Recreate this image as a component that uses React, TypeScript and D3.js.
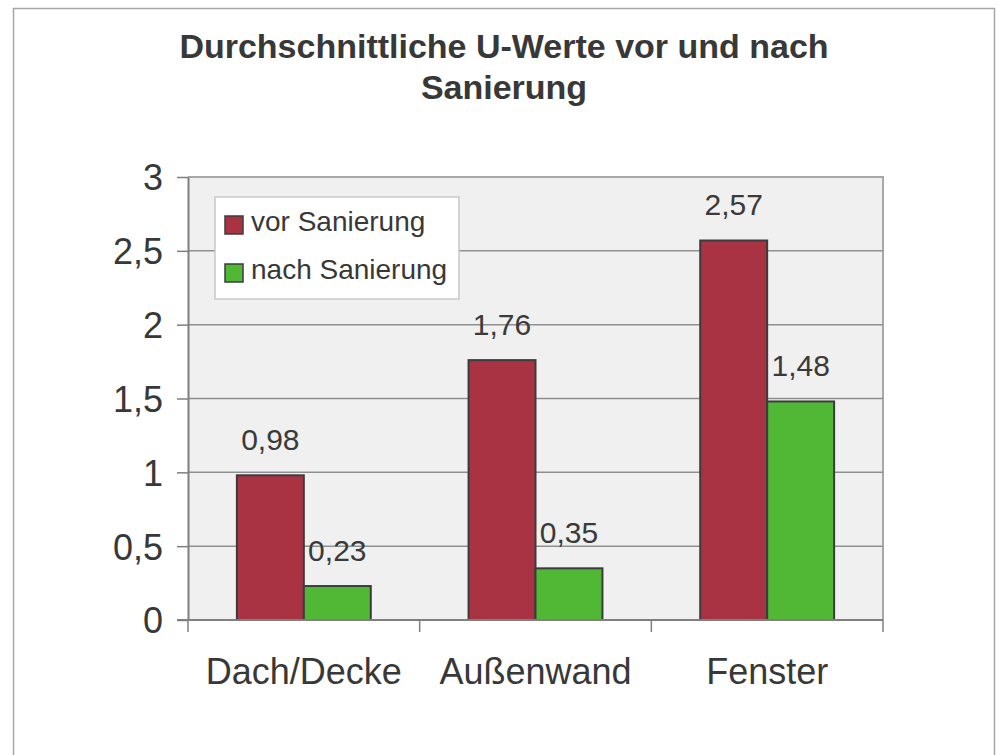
// @ts-nocheck
import { useRef, useEffect } from "react";
import * as d3 from "d3";

const categories = ["Dach/Decke", "Außenwand", "Fenster"];
const seriesNames = ["vor Sanierung", "nach Sanierung"];
const vorValues = [0.98, 1.76, 2.57];
const nachValues = [0.23, 0.35, 1.48];
const yTicks = [0, 0.5, 1, 1.5, 2, 2.5, 3];
const titleLines = ["Durchschnittliche U-Werte vor und nach", "Sanierung"];

const colors = ["#a93243", "#50b834"];
const FONT = "'Liberation Sans', Arial, sans-serif";

const de = d3.formatLocale({ decimal: ",", thousands: ".", grouping: [3], currency: ["", " €"] });

const App = () => {
  const svgRef = useRef();

  useEffect(() => {
    document.body.style.margin = "0";
    const svg = d3.select(svgRef.current);
    svg.selectAll("*").remove();

    const width = 999;
    const height = 755;
    const plot = { left: 188, right: 883, top: 177, bottom: 620 };

    svg.attr("width", width).attr("height", height).style("display", "block");

    // Rahmen aussen
    svg
      .append("rect")
      .attr("x", 13.5)
      .attr("y", 8.5)
      .attr("width", 981)
      .attr("height", 780)
      .attr("fill", "#fff")
      .attr("stroke", "#a6a6a6")
      .attr("stroke-width", 1.5);

    // Titel
    svg
      .append("g")
      .selectAll("text")
      .data(titleLines)
      .enter()
      .append("text")
      .attr("x", 504)
      .attr("y", (d, i) => 58 + i * 41)
      .attr("text-anchor", "middle")
      .attr("font-family", FONT)
      .attr("font-weight", "bold")
      .attr("font-size", 34)
      .attr("fill", "#383838")
      .text((d) => d);

    const x0 = d3.scaleBand().domain(categories).range([plot.left, plot.right]).padding(0);
    const gap = x0.bandwidth() * 0.211;
    const x1 = d3.scaleBand().domain(seriesNames).range([gap, x0.bandwidth() - gap]).padding(0);
    const y = d3.scaleLinear().domain([0, 3]).range([plot.bottom, plot.top]);

    // Plotflaeche
    svg
      .append("rect")
      .attr("x", plot.left)
      .attr("y", plot.top)
      .attr("width", plot.right - plot.left)
      .attr("height", plot.bottom - plot.top)
      .attr("fill", "#f0f0f0");

    svg
      .append("path")
      .attr("d", `M${plot.left},${plot.top}H${plot.right}V${plot.bottom}`)
      .attr("fill", "none")
      .attr("stroke", "#a8a8a8")
      .attr("stroke-width", 2);

    // Gitterlinien
    svg
      .append("g")
      .selectAll("line")
      .data(yTicks.filter((t) => t > 0 && t < 3))
      .enter()
      .append("line")
      .attr("x1", plot.left)
      .attr("x2", plot.right)
      .attr("y1", (d) => y(d))
      .attr("y2", (d) => y(d))
      .attr("stroke", "#8f8f8f")
      .attr("stroke-width", 1.5);

    // Balken
    const rows = categories.map((c, i) => ({ cat: c, values: [vorValues[i], nachValues[i]] }));
    const groups = svg
      .append("g")
      .selectAll("g")
      .data(rows)
      .enter()
      .append("g")
      .attr("transform", (d) => `translate(${x0(d.cat)},0)`);

    groups
      .selectAll("rect")
      .data((d) => d.values.map((v, i) => ({ key: seriesNames[i], value: v, i })))
      .enter()
      .append("rect")
      .attr("x", (d) => x1(d.key))
      .attr("y", (d) => y(d.value))
      .attr("width", x1.bandwidth())
      .attr("height", (d) => y(0) - y(d.value))
      .attr("fill", (d) => colors[d.i])
      .attr("stroke", "#3c3c3c")
      .attr("stroke-width", 2);

    groups
      .selectAll("text")
      .data((d) => d.values.map((v, i) => ({ key: seriesNames[i], value: v })))
      .enter()
      .append("text")
      .attr("x", (d) => x1(d.key) + x1.bandwidth() / 2)
      .attr("y", (d) => y(d.value) - 25)
      .attr("text-anchor", "middle")
      .attr("font-family", FONT)
      .attr("font-size", 30)
      .attr("fill", "#3a3a3a")
      .text((d) => de.format(".2f")(d.value));

    // Y-Achse
    const yAxis = svg
      .append("g")
      .attr("transform", `translate(${plot.left},0)`)
      .call(
        d3
          .axisLeft(y)
          .tickValues(yTicks)
          .tickSize(11)
          .tickSizeOuter(0)
          .tickPadding(14)
          .tickFormat(de.format("~g"))
      );
    yAxis.select(".domain").attr("stroke", "#7f7f7f").attr("stroke-width", 2);
    yAxis.selectAll(".tick line").attr("stroke", "#7f7f7f").attr("stroke-width", 1.5);
    yAxis
      .selectAll(".tick text")
      .attr("font-family", FONT)
      .attr("font-size", 36)
      .attr("fill", "#383838")
      .attr("dy", "0.36em");

    // X-Achse
    const xg = svg.append("g");
    xg.append("line")
      .attr("x1", plot.left - 11)
      .attr("x2", plot.right)
      .attr("y1", plot.bottom)
      .attr("y2", plot.bottom)
      .attr("stroke", "#7f7f7f")
      .attr("stroke-width", 2);

    const bounds = categories.map((c) => x0(c)).concat([x0(categories[categories.length - 1]) + x0.bandwidth()]);
    xg.selectAll(".xt")
      .data(bounds)
      .enter()
      .append("line")
      .attr("class", "xt")
      .attr("x1", (d) => d)
      .attr("x2", (d) => d)
      .attr("y1", plot.bottom)
      .attr("y2", plot.bottom + 12)
      .attr("stroke", "#7f7f7f")
      .attr("stroke-width", 1.5);

    xg.selectAll(".xl")
      .data(categories)
      .enter()
      .append("text")
      .attr("class", "xl")
      .attr("x", (d) => x0(d) + x0.bandwidth() / 2)
      .attr("y", 684)
      .attr("text-anchor", "middle")
      .attr("font-family", FONT)
      .attr("font-size", 36)
      .attr("fill", "#383838")
      .text((d) => d);

    // Legende
    const legend = svg.append("g").attr("transform", "translate(215,197)");
    legend
      .append("rect")
      .attr("width", 244)
      .attr("height", 102)
      .attr("fill", "#fff")
      .attr("stroke", "#c8c8c8")
      .attr("stroke-width", 1.5);

    const items = legend
      .selectAll("g")
      .data(seriesNames)
      .enter()
      .append("g")
      .attr("transform", (d, i) => `translate(10,${28 + i * 48})`);

    items
      .append("rect")
      .attr("x", 0)
      .attr("y", -9)
      .attr("width", 18)
      .attr("height", 18)
      .attr("fill", (d, i) => colors[i])
      .attr("stroke", "#3c3c3c")
      .attr("stroke-width", 1.5);

    items
      .append("text")
      .attr("x", 26)
      .attr("y", 6)
      .attr("font-family", FONT)
      .attr("font-size", 28)
      .attr("fill", "#383838")
      .text((d) => d);
  }, []);

  return <svg ref={svgRef}></svg>;
};

export default App;
